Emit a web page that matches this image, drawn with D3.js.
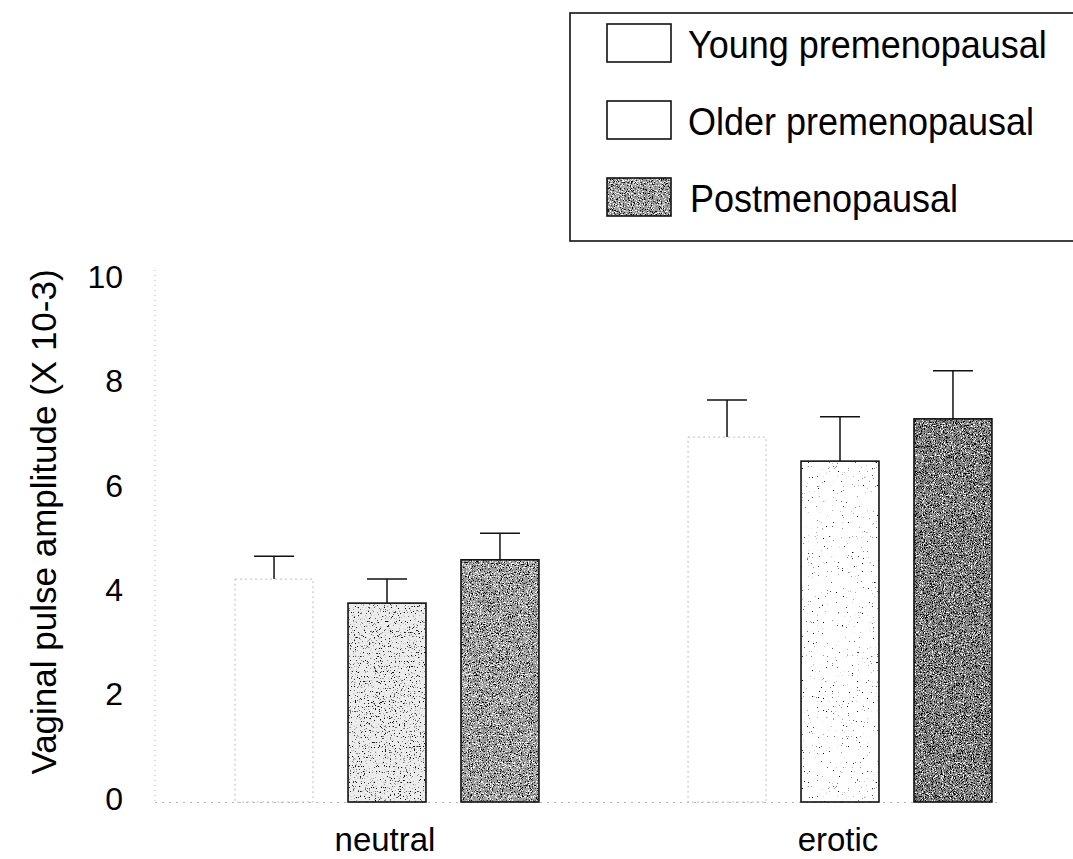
<!DOCTYPE html>
<html>
<head>
<meta charset="utf-8">
<script src="https://cdn.jsdelivr.net/npm/d3@7"></script>
<style>
  html, body { margin: 0; padding: 0; background: #fff; }
  svg { display: block; font-family: "Liberation Sans", Arial, Helvetica, sans-serif; }
</style>
</head>
<body>
<div id="chart"></div>
<script>
    "use strict";

    // values
    var categories = ["neutral", "erotic"];
    var series = ["Young premenopausal", "Older premenopausal", "Postmenopausal"];
    var means = [
        [4.27, 6.99],   // young
        [3.81, 6.53],   // older
        [4.64, 7.34]    // post
    ];
    var errTops = [
        [4.71, 7.70],
        [4.27, 7.38],
        [5.15, 8.26]
    ];
    var yTicks = [0, 2, 4, 6, 8, 10];

    var width = 1073, height = 859;

    var svg = d3.select("#chart").append("svg")
        .attr("width", width)
        .attr("height", height);

    var defs = svg.append("defs");

    // grainy scan look, one filter per shade
    var make_grain = function(id, freq, darkGain, darkOff, lightGain, lightOff, seed) {
        var f = defs.append("filter").attr("id", id)
            .attr("x", 0).attr("y", 0).attr("width", 1).attr("height", 1)
            .attr("color-interpolation-filters", "sRGB");
        f.append("feTurbulence").attr("type", "fractalNoise")
            .attr("baseFrequency", freq).attr("numOctaves", 2).attr("seed", seed).attr("result", "t");
        f.append("feColorMatrix").attr("in", "t").attr("type", "matrix")
            .attr("values", "0 0 0 0 0  0 0 0 0 0  0 0 0 0 0  " + darkGain + " 0 0 0 " + darkOff)
            .attr("result", "dk");
        f.append("feColorMatrix").attr("in", "t").attr("type", "matrix")
            .attr("values", "0 0 0 0 1  0 0 0 0 1  0 0 0 0 1  0 " + lightGain + " 0 0 " + lightOff)
            .attr("result", "lt");
        var m = f.append("feMerge").attr("result", "mg");
        m.append("feMergeNode").attr("in", "SourceGraphic");
        m.append("feMergeNode").attr("in", "dk");
        m.append("feMergeNode").attr("in", "lt");
        f.append("feComposite").attr("in", "mg").attr("in2", "SourceAlpha").attr("operator", "in");
    };
    make_grain("grainDark", 0.9, 9, -4.9, -9, 4.1, 4);
    make_grain("grainDarker", 0.9, 9, -4.6, -9, 3.8, 7);
    make_grain("grainLight", 0.8, 8, -5.0, 0, 0, 11);
    make_grain("grainSparse", 0.8, 10, -7.2, 0, 0, 5);

    // per series / category look
    var barStyle = function(s, c) {
        if (s === 0) return {fill: "#ffffff", filter: null, stroke: "#bdbdbd", dash: "2,3", sw: 1};
        if (s === 1) return c === 0
            ? {fill: "#ececec", filter: "url(#grainLight)", stroke: "#111", dash: null, sw: 1.6}
            : {fill: "#ffffff", filter: "url(#grainSparse)", stroke: "#111", dash: null, sw: 1.6};
        return c === 0
            ? {fill: "#9c9c9c", filter: "url(#grainDark)", stroke: "#111", dash: null, sw: 1.6}
            : {fill: "#8a8a8a", filter: "url(#grainDarker)", stroke: "#111", dash: null, sw: 1.6};
    };

    var y = d3.scaleLinear().domain([0, 10]).range([802, 280]);

    var x0 = d3.scaleBand().domain(categories).range([160.5, 1066.5]).paddingInner(0);
    var x1 = d3.scaleBand().domain(d3.range(series.length)).range([0, x0.bandwidth()])
        .paddingInner(0.31).paddingOuter(0.66);

    // faint dotted axes as in the scan
    svg.append("line")
        .attr("x1", 155).attr("x2", 155).attr("y1", 270).attr("y2", y(0))
        .attr("stroke", "#b5b5b5").attr("stroke-width", 1).attr("stroke-dasharray", "1,4");
    svg.append("line")
        .attr("x1", 155).attr("x2", 1000).attr("y1", y(0) + 0.5).attr("y2", y(0) + 0.5)
        .attr("stroke", "#b5b5b5").attr("stroke-width", 1).attr("stroke-dasharray", "2,5");

    // y tick labels
    var yAxis = d3.axisLeft(y).tickValues(yTicks).tickSize(0).tickPadding(0)
        .tickFormat(d3.format("d"));
    var ya = svg.append("g").attr("transform", "translate(123,-3)").call(yAxis);
    ya.select(".domain").remove();
    ya.selectAll("text")
        .attr("font-size", 32)
        .attr("font-family", "'Liberation Sans', Arial, sans-serif")
        .attr("fill", "#000");

    svg.append("text")
        .attr("transform", "translate(43,522) rotate(-90)")
        .attr("text-anchor", "middle")
        .attr("dominant-baseline", "central")
        .attr("font-size", 35)
        .attr("fill", "#000")
        .text("Vaginal pulse amplitude (X 10-3)");

    // x labels
    var xAxis = d3.axisBottom(x0).tickSize(0).tickPadding(0);
    var xa = svg.append("g").attr("transform", "translate(-2,828)").call(xAxis);
    xa.select(".domain").remove();
    xa.selectAll("text")
        .attr("font-size", 33)
        .attr("font-family", "'Liberation Sans', Arial, sans-serif")
        .attr("fill", "#000");

    // bars
    var groups = svg.selectAll("g.cat").data(categories).enter().append("g")
        .attr("class", "cat")
        .attr("transform", function(d) { return "translate(" + x0(d) + ",0)"; });

    groups.each(function(cat, ci) {
        var g = d3.select(this);
        series.forEach(function(sName, si) {
            var st = barStyle(si, ci);
            var bx = x1(si), bw = x1.bandwidth();
            var top = y(means[si][ci]), bot = y(0);
            var cx = bx + bw / 2;

            // error bar
            g.append("line")
                .attr("x1", cx).attr("x2", cx)
                .attr("y1", top).attr("y2", y(errTops[si][ci]))
                .attr("stroke", "#111").attr("stroke-width", 1.5);
            g.append("line")
                .attr("x1", cx - 20).attr("x2", cx + 20)
                .attr("y1", y(errTops[si][ci])).attr("y2", y(errTops[si][ci]))
                .attr("stroke", "#111").attr("stroke-width", 1.5);

            g.append("rect")
                .attr("x", bx).attr("y", top)
                .attr("width", bw).attr("height", bot - top)
                .attr("fill", st.fill)
                .attr("filter", st.filter);
            g.append("rect")
                .attr("x", bx).attr("y", top)
                .attr("width", bw).attr("height", bot - top)
                .attr("fill", "none")
                .attr("stroke", st.stroke)
                .attr("stroke-width", st.sw)
                .attr("stroke-dasharray", st.dash);
        });
    });

    // legend
    var legend = svg.append("g");
    legend.append("rect")
        .attr("x", 570).attr("y", 13).attr("width", 520).attr("height", 228)
        .attr("fill", "#fff").attr("stroke", "#111").attr("stroke-width", 1.6);

    var legendStyle = [
        {fill: "#fff", filter: null},
        {fill: "#fff", filter: null},
        {fill: "#9c9c9c", filter: "url(#grainDark)"}
    ];
    var rows = legend.selectAll("g.row").data(series).enter().append("g")
        .attr("class", "row")
        .attr("transform", function(d, i) { return "translate(607," + (24 + i * 77) + ")"; });
    rows.append("rect")
        .attr("width", 64).attr("height", 38)
        .attr("fill", function(d, i) { return legendStyle[i].fill; })
        .attr("filter", function(d, i) { return legendStyle[i].filter; });
    rows.append("rect")
        .attr("width", 64).attr("height", 38)
        .attr("fill", "none").attr("stroke", "#111").attr("stroke-width", 1.6);
    rows.append("text")
        .attr("transform", function(d, i) { return "translate(" + (i === 2 ? 83 : 81) + ",34) scale(1,1.1)"; })
        .attr("font-size", 36)
        .attr("fill", "#000")
        .text(function(d) { return d; });
</script>
</body>
</html>
